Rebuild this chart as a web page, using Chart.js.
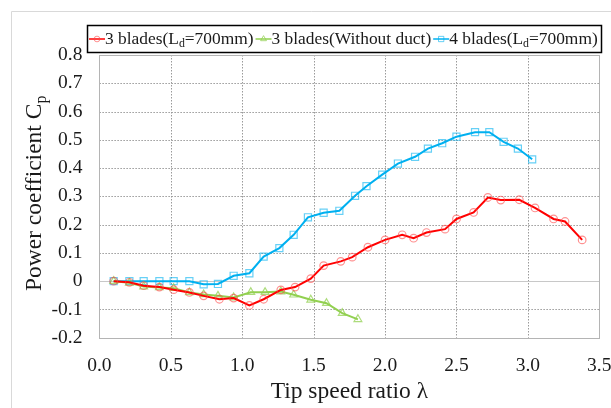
<!DOCTYPE html>
<html><head><meta charset="utf-8">
<script src="https://cdn.jsdelivr.net/npm/chart.js@4/dist/chart.umd.min.js"></script>
<style>html,body{margin:0;padding:0;background:#fff;}canvas{display:block;}</style>
</head><body>
<canvas id="c" width="611" height="408"></canvas>
<script>
// ---- data ----
const redX = [0.10,0.21,0.31,0.42,0.52,0.63,0.73,0.84,0.94,1.05,1.15,1.27,1.37,1.48,1.57,1.69,1.77,1.88,2.00,2.12,2.20,2.29,2.42,2.50,2.62,2.72,2.81,2.94,3.05,3.18,3.26,3.38];
const redY = [0,-0.004,-0.016,-0.021,-0.030,-0.040,-0.052,-0.064,-0.060,-0.086,-0.064,-0.031,-0.021,0.009,0.055,0.070,0.085,0.120,0.146,0.164,0.152,0.172,0.184,0.220,0.243,0.296,0.287,0.288,0.259,0.220,0.211,0.146];
const greenX = [0.10,0.21,0.31,0.42,0.52,0.63,0.73,0.83,0.94,1.06,1.16,1.27,1.36,1.48,1.59,1.70,1.81];
const greenY = [0,-0.006,-0.019,-0.022,-0.025,-0.040,-0.047,-0.052,-0.058,-0.039,-0.039,-0.037,-0.048,-0.066,-0.078,-0.113,-0.135];
const blueX = [0.10,0.21,0.31,0.42,0.52,0.63,0.73,0.83,0.94,1.05,1.15,1.26,1.36,1.46,1.57,1.68,1.79,1.87,1.98,2.09,2.21,2.30,2.40,2.50,2.63,2.73,2.83,2.93,3.03];
const blueY = [0,0,0,0,0,0,-0.011,-0.010,0.019,0.028,0.087,0.117,0.164,0.226,0.242,0.249,0.302,0.336,0.377,0.416,0.440,0.469,0.488,0.511,0.527,0.527,0.493,0.469,0.431];
const seriesNames = [
  [{t:'3 blades(L'},{t:'d',sub:true},{t:'=700mm)'}],
  [{t:'3 blades(Without duct)'}],
  [{t:'4 blades(L'},{t:'d',sub:true},{t:'=700mm)'}]
];
const xTitle = 'Tip speed ratio λ';
const yTitle = [{t:'Power coefficient C'},{t:'p',sub:true}];
const xMin = 0, xMax = 3.5, xStep = 0.5;
const yMin = -0.2, yMax = 0.8, yStep = 0.1;

const FONT = '"Liberation Serif","Times New Roman",serif';
const TXT = '#1a1a1a';
const pts = (xs, ys) => xs.map((x, i) => ({x, y: ys[i]}));

const styles = [
  {line:'#ff0000', pt:'rgba(255,70,70,0.6)', shape:'circle', r:3.8},
  {line:'#92d050', pt:'rgba(146,208,80,0.75)', shape:'triangle', r:4.5},
  {line:'#00b0f0', pt:'rgba(0,176,240,0.6)', shape:'rect', r:5}
];
const dataSets = [pts(redX, redY), pts(greenX, greenY), pts(blueX, blueY)];

function drawRich(ctx, segs, x, y, size) {
  let cx = x;
  segs.forEach(s => {
    const fs = s.sub ? size * 0.68 : size;
    ctx.font = fs + 'px ' + FONT;
    ctx.textBaseline = 'middle';
    ctx.textAlign = 'left';
    ctx.fillText(s.t, cx, s.sub ? y + size * 0.28 : y);
    cx += ctx.measureText(s.t).width;
  });
  return cx - x;
}
function richWidth(ctx, segs, size) {
  let w = 0;
  segs.forEach(s => { ctx.font = (s.sub ? size * 0.68 : size) + 'px ' + FONT; w += ctx.measureText(s.t).width; });
  return w;
}

const gridPlugin = {
  id: 'gridPlugin',
  beforeDatasetsDraw(chart) {
    const {ctx, chartArea: ca, scales: {x: xs, y: ys}} = chart;
    ctx.save();
    ctx.strokeStyle = '#d9d9d9'; ctx.lineWidth = 1;
    ctx.beginPath(); ctx.moveTo(11.5, 408); ctx.lineTo(11.5, 11.5); ctx.lineTo(611, 11.5); ctx.stroke();
    ctx.strokeStyle = '#9a9a9a'; ctx.setLineDash([1.5, 1.5]);
    xs.ticks.forEach(t => {
      if (t.value <= xMin + 1e-9 || t.value >= xMax - 1e-9) return;
      const px = Math.round(xs.getPixelForValue(t.value)) + 0.5;
      ctx.beginPath(); ctx.moveTo(px, ca.top); ctx.lineTo(px, ca.bottom); ctx.stroke();
    });
    ys.ticks.forEach(t => {
      if (Math.abs(t.value) < 1e-9 || t.value <= yMin + 1e-9 || t.value >= yMax - 1e-9) return;
      const py = Math.round(ys.getPixelForValue(t.value)) + 0.5;
      ctx.beginPath(); ctx.moveTo(ca.left, py); ctx.lineTo(ca.right, py); ctx.stroke();
    });
    ctx.setLineDash([]);
    ctx.strokeStyle = '#c8c8c8';
    const zy = Math.round(ys.getPixelForValue(0)) + 0.5;
    ctx.beginPath(); ctx.moveTo(ca.left, zy); ctx.lineTo(ca.right, zy); ctx.stroke();
    ctx.strokeStyle = '#b4b4b4';
    ctx.strokeRect(Math.round(ca.left) + 0.5, Math.round(ca.top) + 0.5, Math.round(ca.right - ca.left), Math.round(ca.bottom - ca.top));
    ctx.restore();
  },
  afterDraw(chart) {
    const {ctx, chartArea: ca} = chart;
    ctx.save();
    const ysz = 23.5;
    const w = richWidth(ctx, yTitle, ysz);
    ctx.translate(35, (ca.top + ca.bottom) / 2 - 3);
    ctx.rotate(-Math.PI / 2);
    ctx.fillStyle = TXT;
    drawRich(ctx, yTitle, -w / 2, 0, ysz);
    ctx.restore();

    // legend
    ctx.save();
    const lx0 = 87.5, ly0 = 25.5, lx1 = 601.5, ly1 = 52.5;
    ctx.fillStyle = '#fff'; ctx.fillRect(lx0, ly0, lx1 - lx0, ly1 - ly0);
    ctx.strokeStyle = '#000'; ctx.lineWidth = 1.5; ctx.strokeRect(lx0, ly0, lx1 - lx0, ly1 - ly0);
    const cy = 39; let x = 89; const lsz = 17.4, seg = 16;
    seriesNames.forEach((segs, i) => {
      const st = styles[i];
      ctx.strokeStyle = st.line; ctx.lineWidth = 1.5;
      ctx.beginPath(); ctx.moveTo(x, cy); ctx.lineTo(x + seg, cy); ctx.stroke();
      ctx.strokeStyle = st.pt; ctx.lineWidth = 1; ctx.fillStyle = 'rgba(255,255,255,0)';
      Chart.helpers.drawPoint(ctx, {pointStyle: st.shape, radius: st.r * 0.75, borderWidth: 1}, x + seg / 2, cy);
      ctx.fillStyle = TXT;
      const tw = drawRich(ctx, segs, x + seg, cy, lsz);
      x += seg + tw + 2;
    });
    ctx.restore();
  }
};

new Chart(document.getElementById('c'), {
  type: 'scatter',
  data: {
    datasets: dataSets.map((d, i) => ({
      data: d,
      showLine: true,
      borderColor: styles[i].line,
      backgroundColor: styles[i].line,
      borderWidth: 2,
      tension: 0,
      pointStyle: styles[i].shape,
      pointRadius: styles[i].r,
      pointBorderColor: styles[i].pt,
      pointBackgroundColor: 'rgba(255,255,255,0)',
      pointBorderWidth: 1.2
    }))
  },
  options: {
    responsive: false,
    animation: false,
    devicePixelRatio: 1,
    layout: {padding: {top: 55, right: 11.7, left: 0, bottom: 0}},
    plugins: {legend: {display: false}, tooltip: {enabled: false}},
    scales: {
      x: {
        type: 'linear', min: xMin, max: xMax,
        afterFit: s => { s.height = 70.3; s.paddingLeft = 0; s.paddingRight = 0; },
        grid: {display: false, drawTicks: false},
        border: {display: false},
        ticks: {stepSize: xStep, padding: 16, color: TXT, font: {family: FONT, size: 19.5},
          callback: v => Number(v).toFixed(1)},
        title: {display: true, text: xTitle, color: TXT, font: {family: FONT, size: 23.5}, padding: {top: 0, bottom: 2}}
      },
      y: {
        type: 'linear', min: yMin, max: yMax,
        afterFit: s => { s.width = 99.4; s.paddingTop = 0; s.paddingBottom = 0; },
        grid: {display: false, drawTicks: false},
        border: {display: false},
        ticks: {stepSize: yStep, padding: 17, color: TXT, font: {family: FONT, size: 19.5},
          callback: v => { const r = Math.round(v * 10) / 10; return r === 0 ? '0' : r.toFixed(1); }}
      }
    }
  },
  plugins: [gridPlugin]
});
</script>
</body></html>
